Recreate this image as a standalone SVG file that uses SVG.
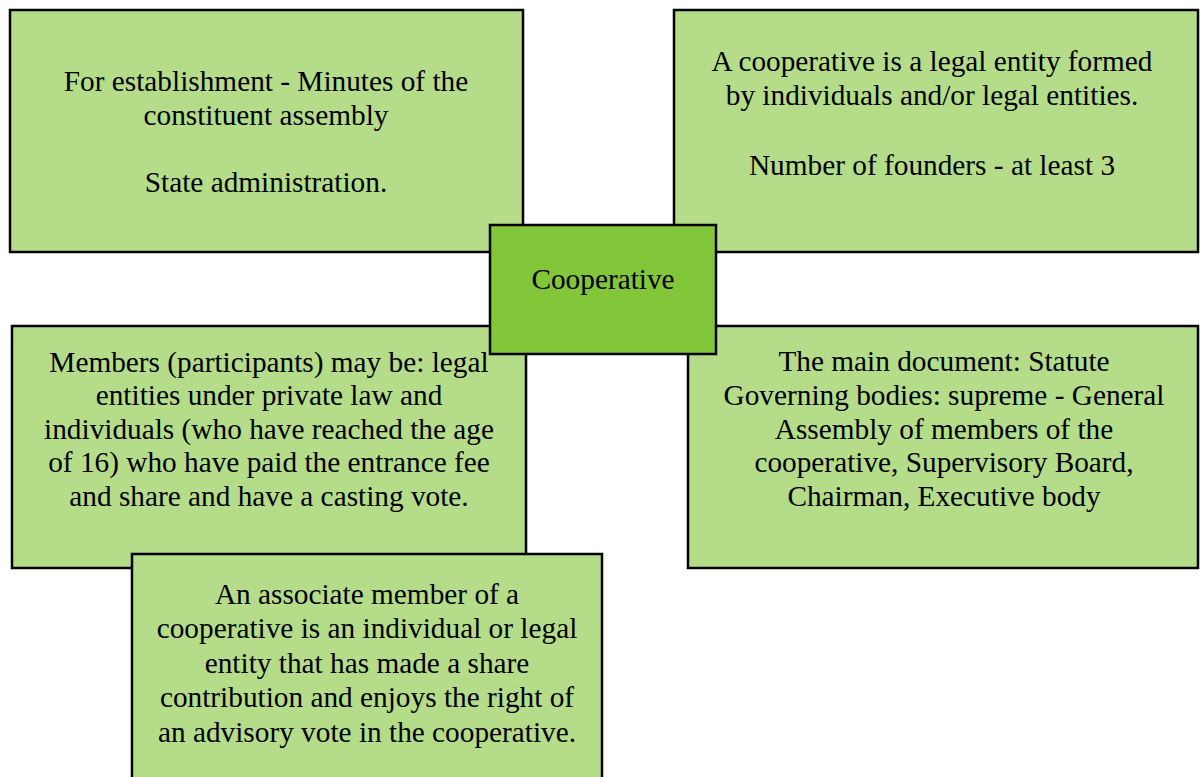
<svg xmlns="http://www.w3.org/2000/svg" width="1200" height="777" viewBox="0 0 1200 777">
<style>
.box{fill:#b5dd89;stroke:#000;stroke-width:2.5}
.core{fill:#82c63a;stroke:#000;stroke-width:2.5}
.t{font-family:'Liberation Serif','DejaVu Serif','Times New Roman',serif;font-size:29.3px;fill:#000;text-anchor:middle}
</style>
<rect width="1200" height="777" fill="#fff"/>
<g id="connectors"></g>
<g id="n1">
<rect class="box" x="10" y="10" width="513" height="242"/>
<text class="t" x="266" y="91">For establishment - Minutes of the</text>
<text class="t" x="266" y="125">constituent assembly</text>
<text class="t" x="266" y="192">State administration.</text>
</g>
<g id="n2">
<rect class="box" x="674" y="10" width="524" height="242"/>
<text class="t" x="932" y="71">A cooperative is a legal entity formed</text>
<text class="t" x="932" y="105">by individuals and/or legal entities.</text>
<text class="t" x="932" y="175">Number of founders - at least 3</text>
</g>
<g id="n3">
<rect class="box" x="12" y="326" width="514" height="242"/>
<text class="t" x="269" y="372">Members (participants) may be: legal</text>
<text class="t" x="269" y="405">entities under private law and</text>
<text class="t" x="269" y="439">individuals (who have reached the age</text>
<text class="t" x="269" y="472">of 16) who have paid the entrance fee</text>
<text class="t" x="269" y="506">and share and have a casting vote.</text>
</g>
<g id="n4">
<rect class="box" x="688" y="326" width="510" height="242"/>
<text class="t" x="944" y="371">The main document: Statute</text>
<text class="t" x="944" y="405">Governing bodies: supreme - General</text>
<text class="t" x="944" y="439">Assembly of members of the</text>
<text class="t" x="944" y="472">cooperative, Supervisory Board,</text>
<text class="t" x="944" y="506">Chairman, Executive body</text>
</g>
<g id="n5">
<rect class="box" x="132" y="554" width="470" height="240"/>
<text class="t" x="367" y="604">An associate member of a</text>
<text class="t" x="367" y="638">cooperative is an individual or legal</text>
<text class="t" x="367" y="673">entity that has made a share</text>
<text class="t" x="367" y="707">contribution and enjoys the right of</text>
<text class="t" x="367" y="742">an advisory vote in the cooperative.</text>
</g>
<g id="center">
<rect class="core" x="490" y="225" width="226" height="129"/>
<text class="t" x="603" y="289">Cooperative</text>
</g>
</svg>
